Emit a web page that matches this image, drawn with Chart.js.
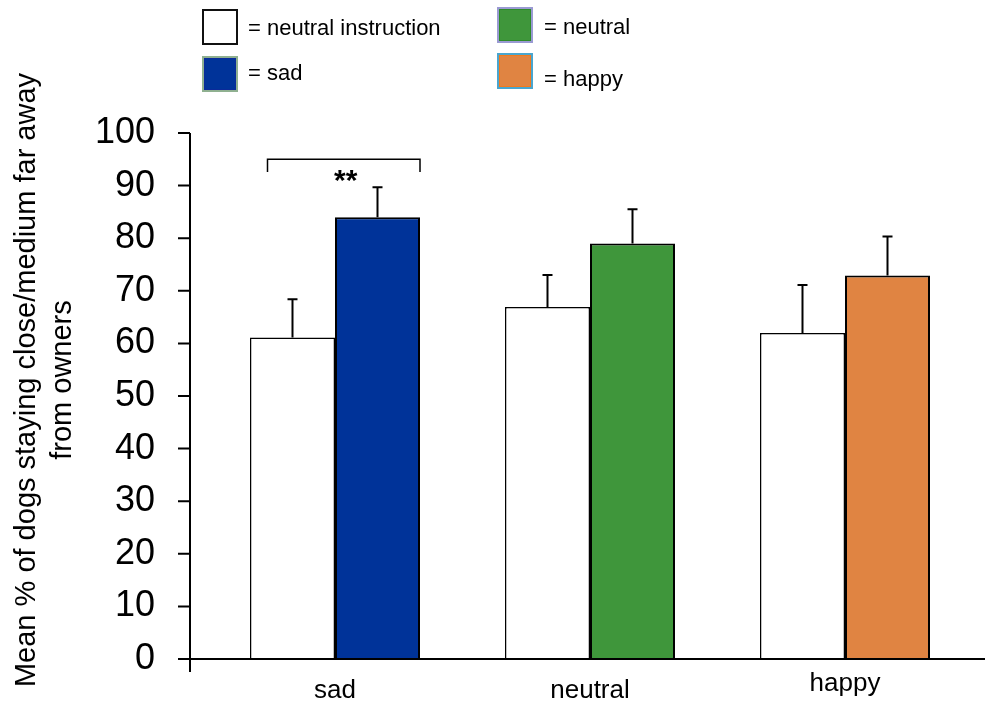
<!DOCTYPE html>
<html>
<head>
<meta charset="utf-8">
<script src="https://cdn.jsdelivr.net/npm/chart.js@4.4.1/dist/chart.umd.min.js"></script>
<style>
body { margin: 0; background: #fff; font-family: "Liberation Sans", Arial, sans-serif; }
#wrap { position: relative; width: 990px; height: 705px; }
.box { position: absolute; width: 36px; height: 36px; box-sizing: border-box; border: 2px solid #000; }
.key { position: absolute; font-size: 22px; line-height: 22px; color: #000; white-space: nowrap; }
</style>
</head>
<body>
<div id="wrap">
  <canvas id="chart" width="990" height="705"></canvas>
  <!-- leyenda a mano, en 2x2 como en la figura -->
  <div class="box" style="left:202px;top:9px;background:#fff;border-color:#111;"></div>
  <div class="key" style="left:248px;top:17px;">= neutral instruction</div>
  <div class="box" style="left:202px;top:56px;background:#003399;border-color:#8fb090;box-shadow:inset 0 0 0 1px #0a2a9a;"></div>
  <div class="key" style="left:248px;top:62px;">= sad</div>
  <div class="box" style="left:497px;top:7px;background:#3f963b;border-color:#9a9ad2;box-shadow:inset 0 0 0 1px #2e8a2a;"></div>
  <div class="key" style="left:544px;top:16px;">= neutral</div>
  <div class="box" style="left:497px;top:53px;background:#e08442;border-color:#4aa6cf;box-shadow:inset 0 0 0 1px #f27a1e;"></div>
  <div class="key" style="left:544px;top:68px;">= happy</div>
</div>
<script>
// Datos
const categories = ['sad', 'neutral', 'happy'];
const neutralInstruction = [61.1, 66.9, 62.0];
const neutralInstructionErr = [7.3, 6.1, 9.1];
const emotion = [84.0, 79.0, 72.9];
const emotionErr = [5.7, 6.5, 7.4];
const emotionColors = ['#003399', '#3f963b', '#e08442'];
const yTicks = [0, 10, 20, 30, 40, 50, 60, 70, 80, 90, 100];
const yTitle = ['Mean % of dogs staying close/medium far away', 'from owners'];
const sigLabel = '**';

// Barras de error, ejes y corchete de significancia
const extras = {
    id: 'extras',
    afterDatasetsDraw(chart) {
        const ctx = chart.ctx;
        const y = chart.scales.y;
        const errs = [neutralInstructionErr, emotionErr];
        const vals = [neutralInstruction, emotion];
        ctx.save();
        ctx.strokeStyle = '#000';
        ctx.lineWidth = 2;
        errs.forEach((errList, d) => {
            chart.getDatasetMeta(d).data.forEach((bar, i) => {
                const top = y.getPixelForValue(vals[d][i] + errList[i]);
                ctx.beginPath();
                ctx.moveTo(bar.x, bar.y);
                ctx.lineTo(bar.x, top);
                ctx.moveTo(bar.x - 5, top);
                ctx.lineTo(bar.x + 5, top);
                ctx.stroke();
            });
        });

        // ejes
        const axisX = 190;
        const y0 = y.getPixelForValue(0);
        ctx.beginPath();
        ctx.moveTo(axisX, y.getPixelForValue(100));
        ctx.lineTo(axisX, y0 + 13);
        ctx.moveTo(178, y0);
        ctx.lineTo(985, y0);
        yTicks.forEach(t => {
            const py = y.getPixelForValue(t);
            ctx.moveTo(178, py);
            ctx.lineTo(axisX, py);
        });
        ctx.stroke();

        // corchete sad
        const w = chart.getDatasetMeta(0).data[0];
        const b = chart.getDatasetMeta(1).data[0];
        const x1 = w.x - 25;
        const x2 = b.x + b.width / 2;
        const yb = y.getPixelForValue(95);
        const yl = y.getPixelForValue(92.6);
        ctx.lineWidth = 1.5;
        ctx.beginPath();
        ctx.moveTo(x1, yl);
        ctx.lineTo(x1, yb);
        ctx.lineTo(x2, yb);
        ctx.lineTo(x2, yl);
        ctx.stroke();
        ctx.fillStyle = '#000';
        ctx.font = 'bold 30px "Liberation Sans", Arial';
        ctx.textAlign = 'center';
        ctx.textBaseline = 'alphabetic';
        ctx.fillText(sigLabel, (x1 + x2) / 2 + 2, yb + 31);

        // título del eje y
        ctx.font = '29px "Liberation Sans", Arial';
        ctx.textBaseline = 'middle';
        yTitle.forEach((line, i) => {
            ctx.save();
            ctx.translate(27 + i * 36, 380);
            ctx.rotate(-Math.PI / 2);
            ctx.fillText(line, 0, 0);
            ctx.restore();
        });
        ctx.restore();
    }
};

const ctx = document.getElementById('chart').getContext('2d');
new Chart(ctx, {
    type: 'bar',
    data: {
        labels: categories,
        datasets: [{
            label: 'neutral instruction',
            data: neutralInstruction,
            backgroundColor: '#ffffff',
            borderColor: '#000000',
            borderWidth: 1.5
        }, {
            label: 'emotion',
            data: emotion,
            backgroundColor: emotionColors,
            borderColor: '#000000',
            borderWidth: 2
        }]
    },
    options: {
        responsive: false,
        animation: false,
        categoryPercentage: 0.6667,
        barPercentage: 1.0,
        layout: { padding: { top: 133, right: 17.5, bottom: 0, left: 0 } },
        plugins: {
            legend: { display: false },
            tooltip: { enabled: false }
        },
        scales: {
            x: {
                grid: { display: false, drawTicks: false },
                border: { display: false },
                afterFit: s => { s.height = 46; },
                ticks: {
                    color: '#000',
                    padding: 16,
                    font: c => ({
                        family: '"Liberation Sans", Arial',
                        size: 26,
                        lineHeight: c.index === 2 ? 0.66 : 1.2
                    })
                }
            },
            y: {
                min: 0,
                max: 100,
                // tickLength solo para separar las etiquetas; las marcas se dibujan en el plugin
                grid: { display: false, drawTicks: true, tickLength: 52.5 },
                border: { display: false },
                afterFit: s => { s.width = 207.5; },
                afterBuildTicks: s => { s.ticks = yTicks.map(v => ({ value: v })); },
                ticks: {
                    color: '#000',
                    padding: 0,
                    font: { family: '"Liberation Sans", Arial', size: 36 }
                }
            }
        }
    },
    plugins: [extras]
});
</script>
</body>
</html>
